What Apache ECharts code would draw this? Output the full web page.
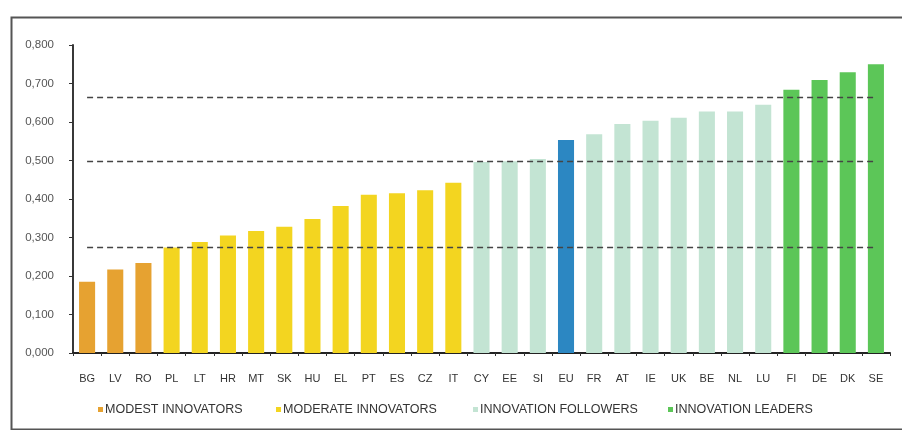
<!DOCTYPE html>
<html>
<head>
<meta charset="utf-8">
<script src="https://cdn.jsdelivr.net/npm/echarts@6/dist/echarts.min.js"></script>
<style>
html,body{margin:0;padding:0;background:#fff;}
#chart{width:902px;height:430px;}
</style>
</head>
<body>
<div id="chart"></div>
<script>
// Countries
const categories = ['BG','LV','RO','PL','LT','HR','MT','SK','HU','EL','PT','ES','CZ','IT','CY','EE','SI','EU','FR','AT','IE','UK','BE','NL','LU','FI','DE','DK','SE'];
// Summary innovation index values
const values = [0.185,0.217,0.234,0.274,0.288,0.305,0.317,0.328,0.348,0.382,0.411,0.415,0.423,0.442,0.496,0.498,0.504,0.553,0.568,0.595,0.603,0.611,0.627,0.627,0.645,0.684,0.709,0.729,0.750];
// Group of each country
const groups = ['modest','modest','modest','moderate','moderate','moderate','moderate','moderate','moderate','moderate','moderate','moderate','moderate','moderate','followers','followers','followers','eu','followers','followers','followers','followers','followers','followers','followers','leaders','leaders','leaders','leaders'];
// Group thresholds (dashed lines)
const thresholds = [0.275, 0.499, 0.665];
// Y tick labels
const yTicks = ['0,000','0,100','0,200','0,300','0,400','0,500','0,600','0,700','0,800'];
// Legend names
const groupNames = {modest:'MODEST INNOVATORS', moderate:'MODERATE INNOVATORS', followers:'INNOVATION FOLLOWERS', leaders:'INNOVATION LEADERS', eu:'EU'};

const colors = {modest:'#E6A231', moderate:'#F3D520', followers:'#C3E4D3', leaders:'#5CC658', eu:'#2C87C2'};
const FONT = "'Liberation Sans', Arial, sans-serif";

const order = ['modest','moderate','followers','leaders','eu'];
const series = order.map(function(g){
  const s = {
    name: groupNames[g],
    type: 'bar',
    stack: 'all',
    barCategoryGap: '43%',
    itemStyle: {color: colors[g]},
    data: values.map(function(v,i){ return groups[i]===g ? v : '-'; })
  };
  if (g === 'leaders') {
    s.markLine = {
      silent: true,
      symbol: 'none',
      label: {show:false},
      lineStyle: {type:[6,4], color:'#444', width:1.4},
      data: thresholds.map(function(t){
        return [{coord:[categories[0], t]}, {coord:[categories[categories.length-1], t]}];
      })
    };
  }
  return s;
});

const legendPos = [
  {name:'MODEST INNOVATORS', left:93},
  {name:'MODERATE INNOVATORS', left:271},
  {name:'INNOVATION FOLLOWERS', left:468},
  {name:'INNOVATION LEADERS', left:663}
];

const chart = echarts.init(document.getElementById('chart'), null, {renderer:'canvas'});
chart.setOption({
  animation: false,
  backgroundColor: '#fff',
  textStyle: {fontFamily: FONT},
  grid: {left:73, right:12, top:45, bottom:77, containLabel:false},
  graphic: [{
    type:'rect', left:9, top:15, shape:{width:905, height:412},
    style:{fill:'none', stroke:'#555', lineWidth:2}, silent:true
  }],
  legend: legendPos.map(function(p){
    return {
      data:[p.name], left:p.left, top:398, itemWidth:5, itemHeight:5, itemGap:0,
      icon:'rect', selectedMode:false,
      textStyle:{fontSize:12.5, color:'#333', fontFamily:FONT, padding:[0,0,0,-3]}
    };
  }),
  xAxis: {
    type:'category',
    data: categories,
    axisLine:{show:true, lineStyle:{color:'#222', width:2}},
    axisTick:{show:true, alignWithLabel:false, length:3, lineStyle:{color:'#333'}},
    axisLabel:{fontSize:11, color:'#333', margin:20, interval:0, fontFamily:FONT}
  },
  yAxis: {
    type:'value', min:0, max:0.8, interval:0.1,
    axisLine:{show:true, lineStyle:{color:'#222', width:1.8}},
    axisTick:{show:true, length:4, lineStyle:{color:'#333'}},
    splitLine:{show:false},
    axisLabel:{fontSize:11.5, color:'#555', margin:19, fontFamily:FONT,
      formatter:function(v){ return yTicks[Math.round(v*10)]; }}
  },
  series: series
});
</script>
</body>
</html>
